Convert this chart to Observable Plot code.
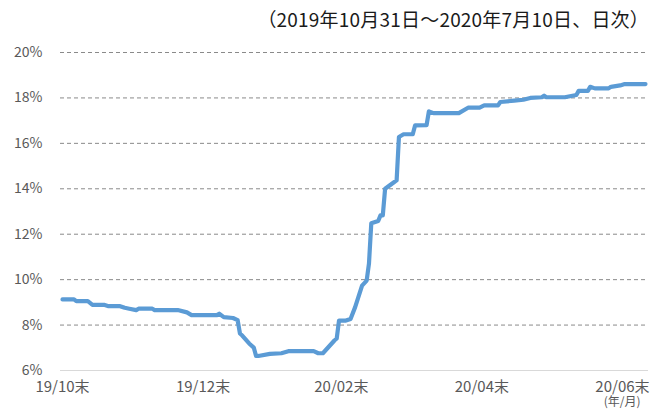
<!DOCTYPE html>
<html><head><meta charset="utf-8">
<script src="https://cdn.jsdelivr.net/npm/d3@7"></script>
<script src="https://cdn.jsdelivr.net/npm/@observablehq/plot@0.6"></script>
<style>
body{margin:0;background:#fff;width:652px;height:412px;overflow:hidden;font-family:"Noto Sans CJK JP",sans-serif}
#title{height:40px;box-sizing:border-box;text-align:right;padding-right:3px;padding-top:7px;font-size:19px;color:#1a1a1a;line-height:24px;white-space:nowrap;letter-spacing:0.2px}
#chart svg{display:block}
</style></head><body>
<div id="title">（2019年10月31日～2020年7月10日、日次）</div>
<div id="chart"></div>
<script>
const dates = [
  "2019-10-31","2019-11-05","2019-11-06","2019-11-11","2019-11-13","2019-11-18","2019-11-20",
  "2019-11-25","2019-11-27","2019-11-29","2019-12-02","2019-12-03","2019-12-09","2019-12-10",
  "2019-12-20","2019-12-24","2019-12-26","2020-01-06","2020-01-07","2020-01-09","2020-01-13",
  "2020-01-15","2020-01-16","2020-01-17","2020-01-20","2020-01-22","2020-01-23","2020-01-24",
  "2020-01-29","2020-02-03","2020-02-06","2020-02-17","2020-02-19","2020-02-21","2020-02-26",
  "2020-02-27","2020-02-28","2020-03-02","2020-03-04","2020-03-06","2020-03-09","2020-03-11",
  "2020-03-12","2020-03-13","2020-03-16","2020-03-17","2020-03-18","2020-03-19","2020-03-23",
  "2020-03-24","2020-03-25","2020-03-27","2020-03-31","2020-04-01","2020-04-06","2020-04-07",
  "2020-04-09","2020-04-20","2020-04-24","2020-04-29","2020-05-01","2020-05-07","2020-05-08",
  "2020-05-14","2020-05-18","2020-05-21","2020-05-26","2020-05-27","2020-05-28","2020-06-05",
  "2020-06-10","2020-06-11","2020-06-15","2020-06-16","2020-06-18","2020-06-24","2020-06-25",
  "2020-06-29","2020-07-01","2020-07-10"
];
const values = [
  9.13,9.13,9.05,9.05,8.89,8.89,8.83,
  8.83,8.76,8.72,8.66,8.72,8.72,8.66,
  8.66,8.56,8.44,8.44,8.50,8.35,8.31,
  8.22,7.63,7.54,7.19,7.01,6.64,6.64,
  6.73,6.76,6.85,6.85,6.76,6.76,7.32,
  7.41,8.20,8.20,8.27,8.79,9.74,9.96,
  10.71,12.48,12.58,12.83,12.83,14.00,14.30,
  14.37,16.28,16.40,16.40,16.79,16.80,17.41,
  17.33,17.33,17.57,17.57,17.67,17.67,17.82,
  17.88,17.92,18.00,18.03,18.10,18.03,18.03,
  18.13,18.31,18.31,18.49,18.42,18.42,18.49,
  18.55,18.61,18.61
];
const tickDates = ["2019-10-31","2019-12-31","2020-02-29","2020-04-30","2020-06-30"];
const tickLabels = ["19/10末","19/12末","20/02末","20/04末","20/06末"];
const yTicks = [6,8,10,12,14,16,18,20];
const xStart = "2019-10-31", xEnd = "2020-07-10";
const unitLabel = "(年/月)";

const data = dates.map((d,i)=>({date:new Date(d), value:values[i]}));
const tickDateObjs = tickDates.map(d=>new Date(d));
const labelFor = d => tickLabels[tickDateObjs.findIndex(t=>+t===+d)];
const font = '"Noto Sans CJK JP", sans-serif';

const chart = Plot.plot({
  width:652, height:372,
  marginLeft:60, marginRight:4, marginTop:12, marginBottom:42,
  style:{fontFamily:font, background:"#fff"},
  x:{type:"utc", domain:[new Date(xStart), new Date(xEnd)], range:[62,645]},
  y:{domain:[6,20]},
  marks:[
    Plot.ruleY(yTicks.filter(d=>d>6), {stroke:"#8a8a8a", strokeWidth:1, strokeDasharray:"4,3"}),
    Plot.ruleY([6], {stroke:"#d9d9d9", strokeWidth:1.2}),
    Plot.axisY({ticks:yTicks, tickSize:0, tickPadding:18, tickFormat:d=>d+"%", fontSize:14, fill:"#595959", label:null}),
    Plot.axisX({ticks:tickDateObjs, tickSize:0, tickPadding:11, tickFormat:labelFor, fontSize:15, fill:"#595959", label:null}),
    Plot.line(data, {x:"date", y:"value", stroke:"#5B9BD5", strokeWidth:4.2, strokeLinejoin:"round", strokeLinecap:"round"}),
    Plot.text([unitLabel], {frameAnchor:"bottom-right", dx:-8, dy:35, textAnchor:"end", fontSize:12, fill:"#595959"})
  ]
});
document.getElementById("chart").appendChild(chart);
</script>
</body></html>
